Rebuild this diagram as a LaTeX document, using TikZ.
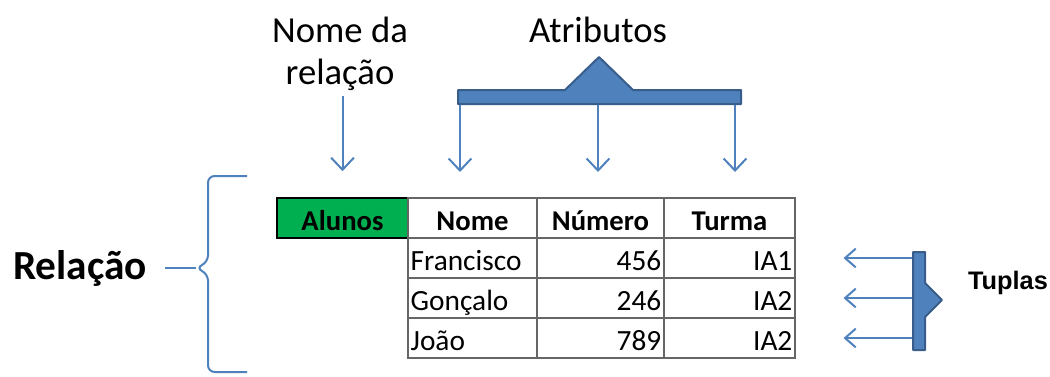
\documentclass[tikz,border=0pt]{standalone}
\usepackage{fontspec}
\setmainfont{Carlito}
\newfontfamily\arialfont{Liberation Sans}
\usetikzlibrary{arrows.meta}
\definecolor{azul}{RGB}{79,129,189}
\definecolor{azulesc}{RGB}{56,93,138}
\definecolor{verde}{RGB}{0,176,80}

\begin{document}
\begin{tikzpicture}[x=0.75pt, y=-0.75pt,
  seta/.style={azul, line width=1.5pt, -{Straight Barb[length=9pt,width=17pt,line width=1.5pt]}},
  setat/.style={azul, line width=1.5pt, -{Straight Barb[length=8pt,width=14pt,line width=1.5pt]}},
  cell/.style={draw=black!60, line width=0.8pt, minimum height=30pt, inner sep=2pt, text height=18pt, text depth=0pt, font=\fontsize{22}{24}\selectfont},
  head/.style={cell, font=\fontsize{21.5}{24}\selectfont\bfseries},
  esq/.style={text width=#1, align=left},
  dir/.style={text width=#1, align=right},
  label/.style={font=\fontsize{27.5}{31.5}\selectfont, align=center, inner sep=0pt},
  chave/.style={azul, line width=1.5pt, rounded corners=5pt},
  barra/.style={fill=azul, draw=azulesc, line width=1.5pt, line join=round}]
\useasboundingbox (0,0) rectangle (1050,376);

% textos
\node[label] (nomerel) at (340,54) {Nome da\\relação};
\node[label] (atrib) at (598,30) {Atributos};
\node[font=\fontsize{31}{34}\selectfont\bfseries, inner sep=0pt] (relacao) at (80,268) {Relação};
\node[font=\arialfont\fontsize{19}{20}\selectfont\bfseries, inner sep=0pt] (tuplas) at (1008,283) {Tuplas};

% tabela
\node[head, fill=verde, draw=black, line width=1.2pt, minimum width=98.25pt] (alunos) at (342.5,218) {Alunos};
\node[head, minimum width=96.75pt] (nome) at (472.5,218) {Nome};
\node[head, minimum width=95.25pt] (numero) at (600.5,218) {Número};
\node[head, minimum width=98.25pt] (turma) at (729.5,218) {Turma};

\node[cell, esq=92.75pt] (nome1) at (472.5,258) {Francisco};
\node[cell, dir=91.25pt] (num1) at (600.5,258) {456};
\node[cell, dir=94.25pt] (tur1) at (729.5,258) {IA1};
\node[cell, esq=92.75pt] (nome2) at (472.5,298) {Gonçalo};
\node[cell, dir=91.25pt] (num2) at (600.5,298) {246};
\node[cell, dir=94.25pt] (tur2) at (729.5,298) {IA2};
\node[cell, esq=92.75pt] (nome3) at (472.5,338) {João};
\node[cell, dir=91.25pt] (num3) at (600.5,338) {789};
\node[cell, dir=94.25pt] (tur3) at (729.5,338) {IA2};

% atributos
\draw[barra] (458,90) -- (565,90) -- (599,57) -- (633,90) -- (741,90)
  -- (741,104) -- (458,104) -- cycle;
\coordinate (a1) at (460,172);
\coordinate (a2) at (598,172);
\coordinate (a3) at (735,172);
\draw[seta] (460,105) -- (a1);
\draw[seta] (598,105) -- (a2);
\draw[seta] (735,105) -- (a3);
\draw[seta, shorten <=4pt, shorten >=19.5pt] (nomerel.south -| alunos.north) -- (alunos.north);

% tuplas
\draw[barra] (913,252) -- (925,252) -- (925,283) -- (942,300) -- (925,317)
  -- (925,350) -- (913,350) -- cycle;
\coordinate (tb) at (912,300);
\draw[setat, shorten >=36pt] (tb |- tur1.east) -- (tur1.east);
\draw[setat, shorten >=36pt] (tb |- tur2.east) -- (tur2.east);
\draw[setat, shorten >=36pt] (tb |- tur3.east) -- (tur3.east);

% chave
\coordinate (ponta) at (196,268);
\draw[chave] (247,176) -- (208,176) -- (208,262) -- (ponta) -- (208,274)
  -- (208,372) -- (247,372);
\draw[azul, line width=1.5pt] (relacao.east) ++(18,0) -- (ponta);
\end{tikzpicture}
\end{document}
